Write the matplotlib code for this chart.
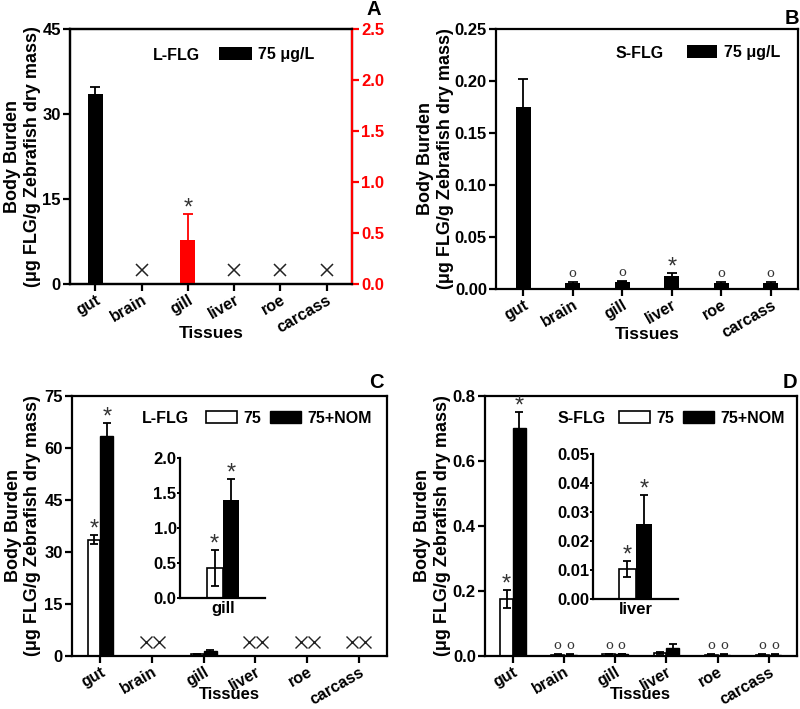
import numpy as np
import matplotlib.pyplot as plt
import matplotlib.transforms as mtransforms
from matplotlib.ticker import FormatStrFormatter

plt.rcParams['font.family'] = ['Liberation Sans', 'DejaVu Sans']
plt.rcParams['font.weight'] = 'bold'
plt.rcParams['axes.labelweight'] = 'bold'
plt.rcParams['axes.linewidth'] = 1.6

tissues = ['gut', 'brain', 'gill', 'liver', 'roe', 'carcass']

# A: L-FLG, 75 ug/L (gill on right axis)
a_gut, a_gut_err = 33.5, 1.3
a_gill, a_gill_err = 0.43, 0.26
a_nd = ['brain', 'liver', 'roe', 'carcass']

# B: S-FLG, 75 ug/L
b_val = [0.175, 0.0055, 0.0072, 0.0125, 0.0055, 0.0055]
b_err = [0.027, 0.0008, 0.0008, 0.0031, 0.0008, 0.0008]
b_mark = ['', 'o', 'o', '*', 'o', 'o']

# C: L-FLG, 75 vs 75+NOM
c_75 = [33.5, np.nan, 0.43, np.nan, np.nan, np.nan]
c_75_err = [1.3, np.nan, 0.26, np.nan, np.nan, np.nan]
c_nom = [63.5, np.nan, 1.40, np.nan, np.nan, np.nan]
c_nom_err = [3.6, np.nan, 0.30, np.nan, np.nan, np.nan]
c_nd = ['brain', 'liver', 'roe', 'carcass']

# D: S-FLG, 75 vs 75+NOM
d_75 = [0.175, 0.004, 0.006, 0.0104, 0.004, 0.004]
d_75_err = [0.027, 0.0008, 0.0008, 0.0029, 0.0008, 0.0008]
d_nom = [0.700, 0.004, 0.006, 0.0258, 0.004, 0.004]
d_nom_err = [0.050, 0.0008, 0.0008, 0.0100, 0.0008, 0.0008]
d_mark = ['*', 'o', 'o', '', 'o', 'o']

ylab = 'Body Burden\n(\u03bcg FLG/g Zebrafish dry mass)'
star_col = '#333333'
ekw = dict(elinewidth=1.3, capthick=1.3)

fig = plt.figure(figsize=(8, 7.09), dpi=100)
xs = np.arange(len(tissues))


def style(ax, yt, fmt, ylx, xly, shift, xlsize=12.5):
    ax.set_xlim(-0.55, 5.55)
    ax.set_xticks(range(len(tissues)))
    ax.set_xticklabels(tissues, rotation=30, ha='right', rotation_mode='anchor')
    move = mtransforms.ScaledTranslation(shift[0] / 100, shift[1] / 100,
                                         fig.dpi_scale_trans)
    for lab in ax.get_xticklabels():
        lab.set_transform(lab.get_transform() + move)
    ax.set_yticks(yt)
    ax.set_ylim(yt[0], yt[-1])
    ax.yaxis.set_major_formatter(FormatStrFormatter(fmt))
    ax.tick_params(direction='out', length=5, width=1.6)
    ax.tick_params(axis='y', pad=1.5, labelsize=12)
    ax.tick_params(axis='x', pad=1, labelsize=11.5)
    ax.set_ylabel(ylab, fontsize=13, linespacing=1.2)
    ax.yaxis.set_label_coords(ylx, 0.5)
    ax.set_xlabel('Tissues', fontsize=xlsize)
    ax.xaxis.set_label_coords(0.5, xly)


def star(ax, x, y, txt='*'):
    if txt == 'o':
        ax.annotate('o', (x, y), xytext=(0, 1.5), textcoords='offset points',
                    ha='center', va='bottom', fontsize=9.5, family='DejaVu Serif',
                    fontweight='normal', color=star_col)
    elif txt == '*':
        ax.annotate('*', (x, y), xytext=(0, -4), textcoords='offset points',
                    ha='center', va='bottom', fontsize=17, fontweight='normal',
                    color=star_col)


leg_kw = dict(frameon=False, fontsize=11.5, handleheight=0.85, handletextpad=0.4,
              borderaxespad=0, borderpad=0)

# ---- A ----
ax = fig.add_axes([0.0875, 0.5994, 0.3525, 0.3597])
gut_bar = ax.bar(tissues.index('gut'), a_gut, 0.32, yerr=a_gut_err, color='k',
                 capsize=3.5, error_kw=ekw, ecolor='k')
ax.plot([tissues.index(t) for t in a_nd], [2.5] * len(a_nd), 'x', color='#222222',
        ms=9, mew=1.1)
style(ax, [0, 15, 30, 45], '%d', -0.103, -0.165, (1, -2))
ax2 = ax.twinx()
ax2.bar(tissues.index('gill'), a_gill, 0.32, yerr=a_gill_err, color='red',
        capsize=3.5, error_kw=ekw, ecolor='red')
star(ax2, tissues.index('gill'), a_gill + a_gill_err)
ax2.set_ylim(0, 2.5)
ax2.set_yticks(np.arange(0, 2.51, 0.5))
ax2.yaxis.set_major_formatter(FormatStrFormatter('%.1f'))
ax2.tick_params(direction='out', length=5, width=1.6, labelsize=12, colors='red',
                pad=1.5)
ax2.spines['right'].set_color('red')
ax.legend([gut_bar], ['75 \u03bcg/L'], loc='center left', bbox_to_anchor=(0.528, 0.9),
          handlelength=2.05, **leg_kw)
ax.text(0.376, 0.898, 'L-FLG', transform=ax.transAxes, ha='center', va='center',
        fontsize=11.5)

# ---- B ----
ax = fig.add_axes([0.62, 0.5924, 0.3775, 0.3667])
bb = ax.bar(xs, b_val, 0.3, yerr=b_err, color='k', capsize=3.5, error_kw=ekw)
for i, m in enumerate(b_mark):
    star(ax, xs[i], b_val[i] + b_err[i], m)
style(ax, [0, 0.05, 0.10, 0.15, 0.20, 0.25], '%.2f', -0.14, -0.145, (1, -2))
ax.legend([bb], ['75 \u03bcg/L'], loc='center left', bbox_to_anchor=(0.632, 0.91),
          handlelength=1.9, **leg_kw)
ax.text(0.477, 0.906, 'S-FLG', transform=ax.transAxes, ha='center', va='center',
        fontsize=11.5)

# ---- C ----
w = 0.25
ax = fig.add_axes([0.09, 0.0748, 0.394, 0.3667])
cw = ax.bar(xs - w / 2, c_75, w, yerr=c_75_err, color='white', edgecolor='k',
            linewidth=1.2, capsize=3, error_kw=ekw)
cb = ax.bar(xs + w / 2, c_nom, w, yerr=c_nom_err, color='k', edgecolor='k',
            capsize=3, error_kw=ekw)
gi = tissues.index('gut')
star(ax, gi - w / 2, c_75[gi] + c_75_err[gi])
star(ax, gi + w / 2, c_nom[gi] + c_nom_err[gi])
nd_x = [tissues.index(t) for t in c_nd]
ax.plot([x - w / 2 for x in nd_x] + [x + w / 2 for x in nd_x], [4.0] * (2 * len(nd_x)),
        'x', color='#222222', ms=8, mew=1.0)
style(ax, [0, 15, 30, 45, 60, 75], '%d', -0.098, -0.12, (5, 9), 12)
ax.legend([cw, cb], ['75', '75+NOM'], loc='center left', bbox_to_anchor=(0.425, 0.915),
          ncol=2, handlelength=1.95, columnspacing=0.55, **leg_kw)
ax.text(0.298, 0.912, 'L-FLG', transform=ax.transAxes, ha='center', va='center',
        fontsize=11.5)

# inset C: gill
axi = fig.add_axes([0.225, 0.1566, 0.106, 0.1975])
k = tissues.index('gill')
axi.bar([-0.2], [c_75[k]], 0.4, yerr=[c_75_err[k]], color='white', edgecolor='k',
        linewidth=1.2, capsize=3, error_kw=ekw)
axi.bar([0.2], [c_nom[k]], 0.4, yerr=[c_nom_err[k]], color='k', capsize=3, error_kw=ekw)
star(axi, -0.2, c_75[k] + c_75_err[k])
star(axi, 0.2, c_nom[k] + c_nom_err[k])
axi.set_xlim(-1.05, 1.03)
axi.set_ylim(0, 2.0)
axi.set_yticks(np.arange(0, 2.01, 0.5))
axi.yaxis.set_major_formatter(FormatStrFormatter('%.1f'))
axi.set_xticks([0])
axi.set_xticklabels(['gill'])
axi.tick_params(axis='x', length=0, labelsize=12, pad=2)
axi.tick_params(axis='y', direction='out', length=2, width=1.4, labelsize=12, pad=0.5)
axi.spines['top'].set_visible(False)
axi.spines['right'].set_visible(False)

# ---- D ----
ax = fig.add_axes([0.606, 0.0748, 0.39, 0.3667])
dw = ax.bar(xs - w / 2, d_75, w, yerr=d_75_err, color='white', edgecolor='k',
            linewidth=1.2, capsize=3, error_kw=ekw)
db = ax.bar(xs + w / 2, d_nom, w, yerr=d_nom_err, color='k', edgecolor='k',
            capsize=3, error_kw=ekw)
for i, m in enumerate(d_mark):
    star(ax, xs[i] - w / 2, d_75[i] + d_75_err[i], m)
    star(ax, xs[i] + w / 2, d_nom[i] + d_nom_err[i], m)
style(ax, [0, 0.2, 0.4, 0.6, 0.8], '%.1f', -0.109, -0.12, (5, 9), 12)
ax.legend([dw, db], ['75', '75+NOM'], loc='center left', bbox_to_anchor=(0.429, 0.915),
          ncol=2, handlelength=1.95, columnspacing=0.55, **leg_kw)
ax.text(0.311, 0.912, 'S-FLG', transform=ax.transAxes, ha='center', va='center',
        fontsize=11.5)

# inset D: liver
axi = fig.add_axes([0.741, 0.155, 0.106, 0.2045])
k = tissues.index('liver')
axi.bar([-0.2], [d_75[k]], 0.4, yerr=[d_75_err[k]], color='white', edgecolor='k',
        linewidth=1.2, capsize=3, error_kw=ekw)
axi.bar([0.2], [d_nom[k]], 0.4, yerr=[d_nom_err[k]], color='k', capsize=3, error_kw=ekw)
star(axi, -0.2, d_75[k] + d_75_err[k])
star(axi, 0.2, d_nom[k] + d_nom_err[k])
axi.set_xlim(-1.05, 1.03)
axi.set_ylim(0, 0.05)
axi.set_yticks(np.arange(0, 0.051, 0.01))
axi.yaxis.set_major_formatter(FormatStrFormatter('%.2f'))
axi.set_xticks([0])
axi.set_xticklabels(['liver'])
axi.tick_params(axis='x', length=0, labelsize=12, pad=2)
axi.tick_params(axis='y', direction='out', length=2, width=1.4, labelsize=12, pad=0.5)
axi.spines['top'].set_visible(False)
axi.spines['right'].set_visible(False)

# panel letters
fig.text(0.476, 1.0, 'A', ha='right', va='top', fontsize=14.5)
fig.text(0.999, 0.988, 'B', ha='right', va='top', fontsize=14.5)
fig.text(0.479, 0.447, 'C', ha='right', va='bottom', fontsize=14.5)
fig.text(0.996, 0.447, 'D', ha='right', va='bottom', fontsize=14.5)

fig.savefig('out.png', dpi=100)
